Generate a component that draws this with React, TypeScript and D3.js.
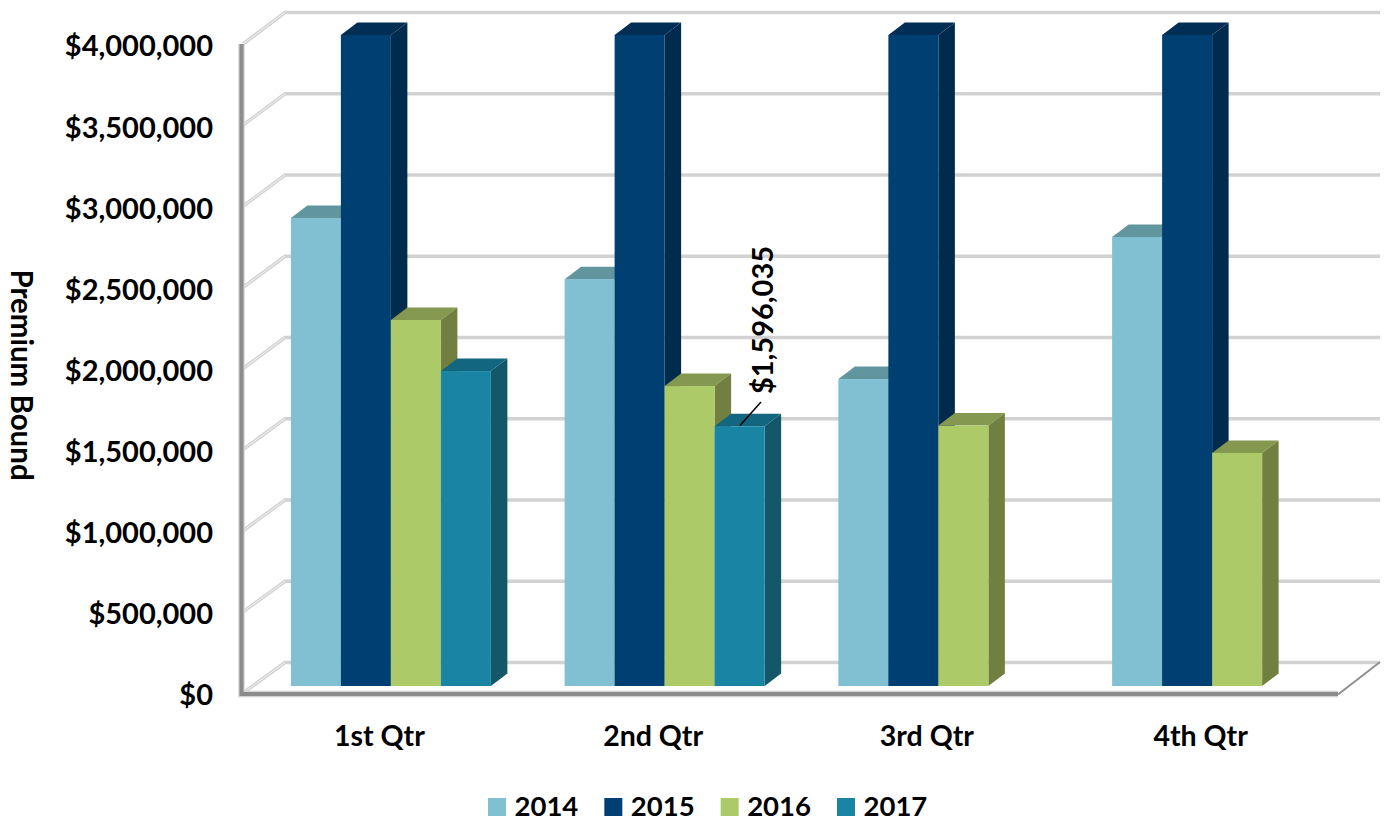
import * as d3 from 'd3'

const quarters = ['1st Qtr', '2nd Qtr', '3rd Qtr', '4th Qtr']
const years = ['2014', '2015', '2016', '2017']
const v2014 = [2876000, 2500000, 1886000, 2759000]
const v2015 = [4000000, 4000000, 4000000, 4000000]
const v2016 = [2249000, 1843000, 1600000, 1432000]
const v2017: (number | null)[] = [1935000, 1596035, null, null]
const yearValues = [v2014, v2015, v2016, v2017]
const yTicks = [0, 500000, 1000000, 1500000, 2000000, 2500000, 3000000, 3500000, 4000000]

const front = ['#80c0d2', '#003f72', '#adca69', '#1a84a5']
const top = ['#62969f', '#002e55', '#84994f', '#13667f']
const side = ['#5f98a2', '#002b4d', '#718040', '#135868']

const font = 'Lato, Carlito, sans-serif'
const money = d3.format('$,')

// wall corners of the fake 3d box
const wallDx = 42
const yFront = d3.scaleLinear().domain([0, 4000000]).range([693, 44])
const yBack = d3.scaleLinear().domain([0, 4000000]).range([662.5, 12.5])
const yBar = d3.scaleLinear().domain([0, 4000000]).range([686, 35])
const xBand = d3.scaleBand<string>().domain(quarters).range([243, 1338]).paddingInner(0).paddingOuter(0)
const barW = 50
const depthX = 16.5
const depthY = 12.5
const barShift = 11

const App = () => {
  const groupLeft = (q: string) => (xBand(q) as number) + (xBand.bandwidth() - barW * 4) / 2 + barShift

  return (
    <svg width={1385} height={819} style={{ position: 'absolute', left: 0, top: 0, display: 'block' }} fontFamily={font} fontWeight={700}>
      {/* gridlines */}
      {yTicks.map(t => (
        <g key={t} fill="none">
          <path
            d={`M${243},${yFront(t)}L${243 + wallDx},${yBack(t)}H${1380}`}
            stroke="#d2d2d2"
            strokeWidth={3.5}
          />
          <path d={`M${243},${yFront(t)}L${243 + wallDx},${yBack(t)}`} stroke="#f2f2f2" strokeWidth={1} />
        </g>
      ))}

      {/* bars */}
      {quarters.map((q, qi) => (
        <g key={q}>
          {yearValues.map((vals, si) => {
            const v = vals[qi]
            if (v == null) return null
            const x0 = groupLeft(q) + si * barW
            const x1 = x0 + barW
            const yT = yBar(v)
            const yB = yBar(0)
            return (
              <g key={si}>
                <path d={`M${x0},${yT}l${depthX},${-depthY}h${barW}l${-depthX},${depthY}z`} fill={top[si]} />
                <path d={`M${x1},${yT}l${depthX},${-depthY}V${yB - depthY}l${-depthX},${depthY}z`} fill={side[si]} />
                <rect x={x0} y={yT} width={barW} height={yB - yT} fill={front[si]} />
              </g>
            )
          })}
        </g>
      ))}

      {/* axis lines */}
      <path d={`M1338,694.5L1380,662`} stroke="#8f8f8f" strokeWidth={2} fill="none" />
      <path d={`M241.5,44V694H1338`} stroke="#d4d4d4" strokeWidth={6.5} fill="none" />
      <path d={`M241.5,44V694H1338`} stroke="#8c8c8c" strokeWidth={4} fill="none" />

      {/* y tick labels */}
      {yTicks.map(t => (
        <text key={t} x={213} y={yFront(t) + 2} dy="0.36em" textAnchor="end" fontSize={29} fill="#000">
          {money(t)}
        </text>
      ))}

      {/* x labels */}
      {quarters.map(q => (
        <text key={q} x={groupLeft(q) + 100 - 11.5} y={746} textAnchor="middle" fontSize={28.5} fill="#000">
          {q}
        </text>
      ))}

      {/* axis title */}
      <text transform="translate(11,375) rotate(90)" textAnchor="middle" fontSize={29.5} fill="#000">
        Premium Bound
      </text>

      {/* single data label with leader */}
      <path d="M740,425.5L761,402" stroke="#000" strokeWidth={1.5} fill="none" />
      <text transform="translate(773,320) rotate(-90)" textAnchor="middle" fontSize={29} fill="#000">
        {money(v2017[1] as number)}
      </text>

      {/* legend */}
      {years.map((y, i) => {
        const lx = d3.scaleLinear().domain([0, 3]).range([488, 837])(i)
        return (
          <g key={y}>
            <rect x={lx} y={798} width={18} height={18} fill={front[i]} />
            <text x={lx + 26.5} y={815.5} fontSize={27.5} fill="#000">{y}</text>
          </g>
        )
      })}
    </svg>
  )
}

export default App
